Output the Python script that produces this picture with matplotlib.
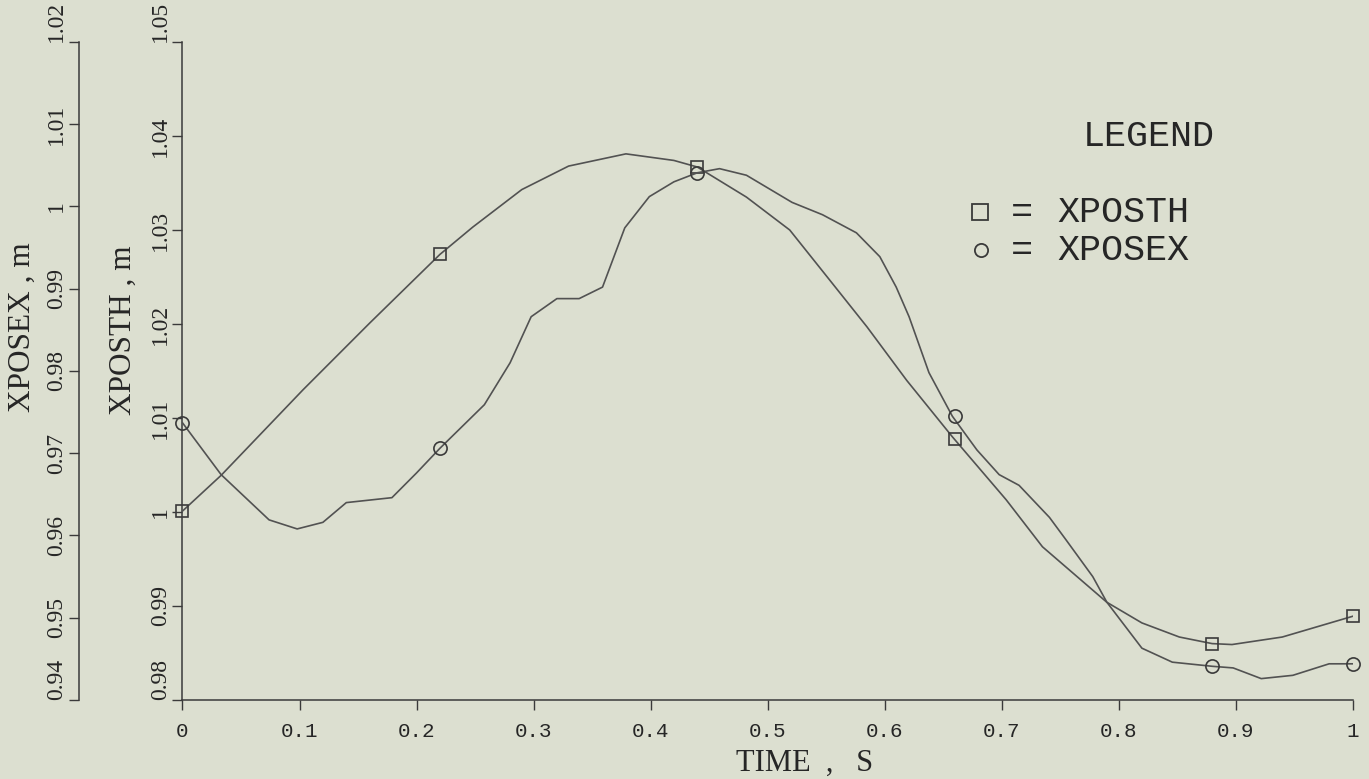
import matplotlib
matplotlib.use('Agg')
import matplotlib.pyplot as plt
from matplotlib.lines import Line2D

# ---------------- data ----------------
time_th = [0.0, 0.033, 0.103, 0.16, 0.22, 0.248, 0.29, 0.33, 0.379, 0.42, 0.44,
           0.482, 0.519, 0.553, 0.585, 0.619, 0.658, 0.704, 0.735, 0.79, 0.82,
           0.852, 0.88, 0.897, 0.94, 1.0]
xposth = [1.0001, 1.0039, 1.0130, 1.0201, 1.0274, 1.0303, 1.0343, 1.0368, 1.0381,
          1.0374, 1.0367, 1.0335, 1.0300, 1.0247, 1.0197, 1.0140, 1.0080, 1.0013,
          0.9963, 0.9904, 0.9882, 0.9867, 0.9860, 0.9859, 0.9867, 0.9889]

time_ex = [0.0, 0.033, 0.074, 0.098, 0.12, 0.14, 0.179, 0.2, 0.22, 0.258, 0.28,
           0.298, 0.32, 0.339, 0.359, 0.378, 0.399, 0.42, 0.44, 0.459, 0.482,
           0.521, 0.547, 0.576, 0.596, 0.61, 0.621, 0.638, 0.658, 0.679, 0.698,
           0.715, 0.741, 0.755, 0.778, 0.79, 0.82, 0.846, 0.88, 0.898, 0.922,
           0.949, 0.98, 1.0]
xposex = [0.9737, 0.9674, 0.9619, 0.9608, 0.9616, 0.9640, 0.9646, 0.9676, 0.9706,
          0.9759, 0.9810, 0.9866, 0.9888, 0.9888, 0.9902, 0.9974, 1.0012, 1.0030,
          1.0041, 1.0046, 1.0038, 1.0005, 0.9990, 0.9968, 0.9939, 0.9902, 0.9866,
          0.9798, 0.9745, 0.9704, 0.9674, 0.9661, 0.9622, 0.9595, 0.9550, 0.9519,
          0.9463, 0.9446, 0.9441, 0.9439, 0.9426, 0.9430, 0.9444, 0.9444]

marker_time = [0.0, 0.22, 0.44, 0.66, 0.88, 1.0]
marker_th = [1.0001, 1.0274, 1.0367, 1.0078, 0.9860, 0.9889]
marker_ex = [0.9737, 0.9706, 1.0041, 0.9745, 0.9441, 0.9444]

x_ticks = [0, 0.1, 0.2, 0.3, 0.4, 0.5, 0.6, 0.7, 0.8, 0.9, 1.0]
th_ticks = [0.98, 0.99, 1.0, 1.01, 1.02, 1.03, 1.04, 1.05]
ex_ticks = [0.94, 0.95, 0.96, 0.97, 0.98, 0.99, 1.0, 1.01, 1.02]

# ---------------- style ----------------
BG = '#dcdfd0'
LINE = '#525252'
AXC = '#3a3a3a'
TXT = '#262626'
SERIF = 'Liberation Serif'
MONO = 'Liberation Mono'

W, H = 1369, 779
fig = plt.figure(figsize=(W / 100, H / 100), dpi=100, facecolor=BG)

x0, x1 = 182.5, 1352.5
y0, y1 = 42, 700
ax = fig.add_axes([x0 / W, 1 - y1 / H, (x1 - x0) / W, (y1 - y0) / H])
ax.set_facecolor('none')
ax2 = ax.twinx()
ax2.set_facecolor('none')

for a in (ax, ax2):
    a.spines['top'].set_visible(False)
    a.spines['right'].set_visible(False)
ax2.spines['bottom'].set_visible(False)
ax2.spines['left'].set_position(('axes', (79 - x0) / (x1 - x0)))
ax2.yaxis.set_ticks_position('left')
for a in (ax, ax2):
    for s in a.spines.values():
        s.set_color(AXC)
        s.set_linewidth(1.1)

# curves
ax.plot(time_th, xposth, color=LINE, lw=1.2, zorder=3)
ax.plot(marker_time, marker_th, ls='none', marker='s', ms=9, mfc='none',
        mec=AXC, mew=1.2, zorder=4, clip_on=False)
ax2.plot(time_ex, xposex, color=LINE, lw=1.2, zorder=3)
ax2.plot(marker_time, marker_ex, ls='none', marker='o', ms=9.5, mfc='none',
         mec=AXC, mew=1.2, zorder=4, clip_on=False)

ax.set_xlim(0, 1)
ax.set_ylim(0.98, 1.05)
ax2.set_ylim(0.94, 1.02)

ax.set_xticks(x_ticks, labels=[f'{v:g}' for v in x_ticks])
ax.set_yticks(th_ticks, labels=[f'{v:g}' for v in th_ticks])
ax2.set_yticks(ex_ticks, labels=[f'{v:g}' for v in ex_ticks])

ax.tick_params(axis='x', direction='out', length=7, width=1.0, color=AXC,
               pad=9, labelsize=15, labelcolor=TXT)
for a in (ax, ax2):
    a.tick_params(axis='y', direction='out', length=7, width=1.0, color=AXC,
                  pad=1.5, labelsize=17, labelcolor=TXT, labelrotation=90)
for lab in ax.get_xticklabels():
    lab.set_fontfamily(MONO)
for a in (ax, ax2):
    ticks = a.yaxis.get_major_ticks()
    for i, t in enumerate(ticks):
        t.label1.set_fontfamily(SERIF)
        t.label1.set_va('center')
    ticks[0].label1.set_va('bottom')
    ticks[-1].label1.set_va('bottom')

# axis titles
fig.text(22 / W, 1 - 327 / H, 'XPOSEX , m', rotation=90, ha='center', va='center',
         fontsize=22.5, family=SERIF, color=TXT)
fig.text(123 / W, 1 - 330 / H, 'XPOSTH , m', rotation=90, ha='center', va='center',
         fontsize=22.5, family=SERIF, color=TXT)
fig.text(805 / W, 1 - 771 / H, 'TIME  ,   S', ha='center', va='baseline',
         fontsize=22, family=SERIF, color=TXT)

# legend
LFS = 26.5
fig.text(1083 / W, 1 - 137 / H, 'LEGEND', ha='left', va='center',
         fontsize=LFS, family=MONO, color=TXT)
fig.add_artist(Line2D([980 / W], [1 - 212 / H], transform=fig.transFigure,
                      marker='s', ms=11.5, mfc='none', mec=AXC, mew=1.3, ls='none'))
fig.add_artist(Line2D([981 / W], [1 - 250 / H], transform=fig.transFigure,
                      marker='o', ms=9.5, mfc='none', mec=AXC, mew=1.3, ls='none'))
for yy, name in ((212, 'XPOSTH'), (250, 'XPOSEX')):
    fig.text(1022 / W, 1 - yy / H, '=', ha='center', va='center',
             fontsize=LFS, family=MONO, color=TXT)
    fig.text(1057 / W, 1 - yy / H, name, ha='left', va='center',
             fontsize=LFS, family=MONO, color=TXT)

fig.savefig('out.png', dpi=100, facecolor=BG)
